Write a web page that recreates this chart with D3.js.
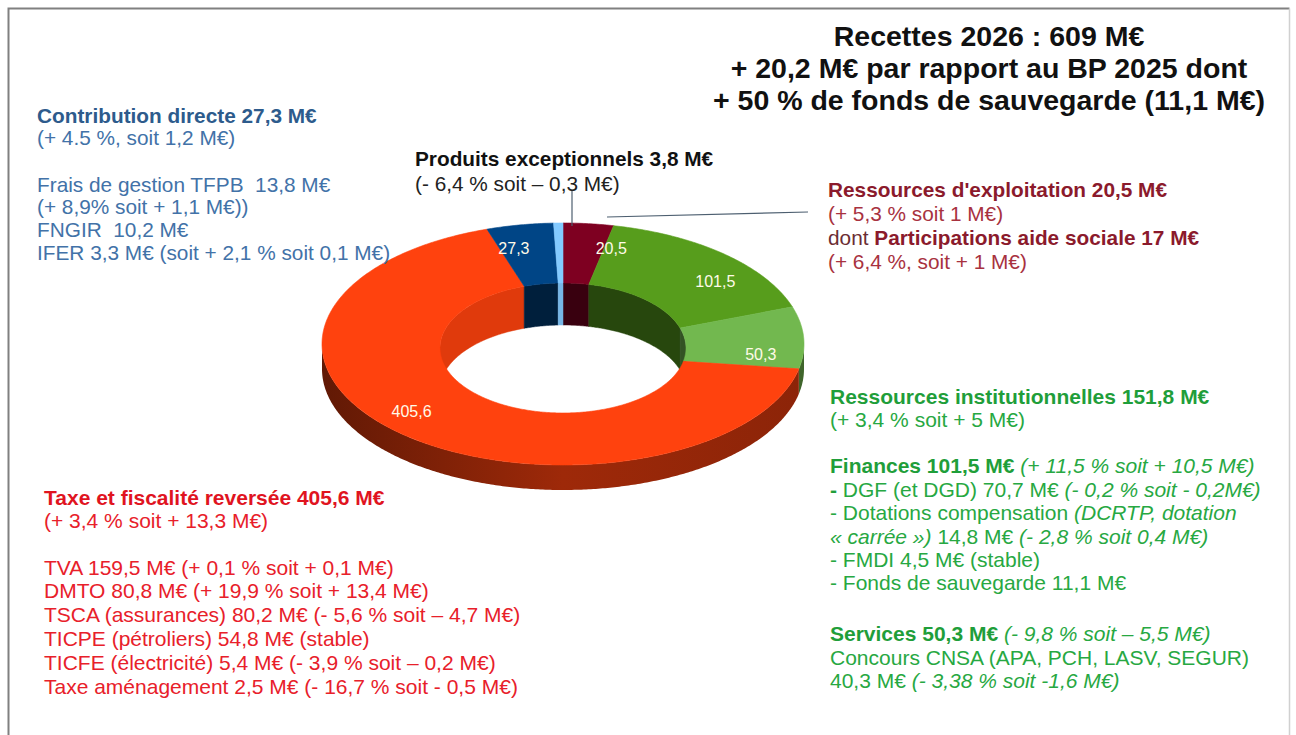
<!DOCTYPE html>
<html>
<head>
<meta charset="utf-8">
<script src="https://cdn.jsdelivr.net/npm/d3@7"></script>
<style>
  body { margin: 0; background: #fff; }
  svg { display: block; font-family: "Liberation Sans", Arial, sans-serif; }
</style>
</head>
<body>
<div id="chart"></div>
<script>
// slices, clockwise from 12 o'clock
const sliceNames = ["Ressources d'exploitation", "Finances", "Services", "Taxe et fiscalité reversée", "Contribution directe", "Produits exceptionnels"]
const sliceValues = [20.5, 101.5, 50.3, 405.6, 27.3, 3.8]
const sliceLabels = ["20,5", "101,5", "50,3", "405,6", "27,3", ""]
const sliceColors = ["#7e0021", "#579d1c", "#72b84f", "#ff420e", "#004586", "#83caff"]

const titleLines = ["Recettes 2026 : 609 M€", "+ 20,2 M€ par rapport au BP 2025 dont", "+ 50 % de fonds de sauvegarde (11,1 M€)"]

// text blocks : each line is a list of [text, style] runs (b = bold, i = italic)
// a number stands for an extra blank gap (px)
const blockContribution = [
    [["Contribution directe 27,3 M€", "b"]],
    [["(+ 4.5 %, soit 1,2 M€)", ""]],
    24,
    [["Frais de gestion TFPB  13,8 M€", ""]],
    [["(+ 8,9% soit + 1,1 M€))", ""]],
    [["FNGIR  10,2 M€", ""]],
    [["IFER 3,3 M€ (soit + 2,1 % soit 0,1 M€)", ""]]
]
const blockProduits = [
    [["Produits exceptionnels 3,8 M€", "b"]],
    [["(- 6,4 % soit – 0,3 M€)", ""]]
]
const blockExploitation = [
    [["Ressources d'exploitation 20,5 M€", "b"]],
    [["(+ 5,3 % soit 1 M€)", ""]],
    [["dont ", "d"], ["Participations aide sociale 17 M€", "b"]],
    [["(+ 6,4 %, soit + 1 M€)", ""]]
]
const blockInstitution = [
    [["Ressources institutionnelles 151,8 M€", "b"]],
    [["(+ 3,4 % soit + 5 M€)", ""]],
    23,
    [["Finances 101,5 M€", "b"], [" (+ 11,5 % soit + 10,5 M€)", "i"]],
    [["-", "b"], [" DGF (et DGD) 70,7 M€ ", ""], ["(- 0,2 % soit - 0,2M€)", "i"]],
    [["- Dotations compensation ", ""], ["(DCRTP, dotation", "i"]],
    [["« carrée »)", "i"], [" 14,8 M€ ", ""], ["(- 2,8 % soit 0,4 M€)", "i"]],
    [["- FMDI 4,5 M€ (stable)", ""]],
    [["- Fonds de sauvegarde 11,1 M€", ""]],
    27.5,
    [["Services 50,3 M€", "b"], [" (- 9,8 % soit – 5,5 M€)", "i"]],
    [["Concours CNSA (APA, PCH, LASV, SEGUR)", ""]],
    [["40,3 M€ ", ""], ["(- 3,38 % soit -1,6 M€)", "i"]]
]
const blockTaxe = [
    [["Taxe et fiscalité reversée 405,6 M€", "b"]],
    [["(+ 3,4 % soit + 13,3 M€)", ""]],
    22.5,
    [["TVA 159,5 M€ (+ 0,1 % soit + 0,1 M€)", ""]],
    [["DMTO 80,8 M€ (+ 19,9 % soit + 13,4 M€)", ""]],
    [["TSCA (assurances) 80,2 M€ (- 5,6 % soit – 4,7 M€)", ""]],
    [["TICPE (pétroliers) 54,8 M€ (stable)", ""]],
    [["TICFE (électricité) 5,4 M€ (- 3,9 % soit – 0,2 M€)", ""]],
    [["Taxe aménagement 2,5 M€ (- 16,7 % soit - 0,5 M€)", ""]]
]

function draw_chart() {
    const width = 1296, height = 735
    const svg = d3.select('#chart').append('svg')
        .attr('width', width).attr('height', height)

    svg.append('rect').attr('width', width).attr('height', height).attr('fill', '#fff')
    // frame
    svg.append('path').attr('d', 'M8.5,735 V8.5 H1289.5')
        .attr('fill', 'none').attr('stroke', '#808080').attr('stroke-width', 2)
    svg.append('line').attr('x1', 1289.5).attr('y1', 8.5).attr('x2', 1289.5).attr('y2', 735)
        .attr('stroke', '#d0d0d0').attr('stroke-width', 1.5)

    // ---- pseudo 3d donut ----
    const cx = 563
    const outer = {rx: 241, ry: 121, cy: 344}
    const inner = {rx: 123, ry: 65, cy: 348}
    const sideDepth = 25, wallDepth = 42

    const pie = d3.pie().sort(null).value(d => d).startAngle(0).endAngle(2 * Math.PI)
    const arcs = pie(sliceValues).map((a, i) => ({...a, i: i}))

    const pt = (e, a, dy = 0) => [cx + e.rx * Math.sin(a), e.cy - e.ry * Math.cos(a) + dy]
    function ring(e, a0, a1, dy = 0) {
        const n = Math.max(2, Math.ceil(Math.abs(a1 - a0) / 0.01))
        return d3.range(n + 1).map(k => pt(e, a0 + (a1 - a0) * k / n, dy))
    }
    const line = d3.line()
    const dark = (c, k) => d3.interpolateRgb(c, '#000')(k)

    const defs = svg.append('defs')
    sliceColors.forEach((c, i) => {
        const g = defs.append('linearGradient').attr('id', 'side' + i)
            .attr('gradientUnits', 'userSpaceOnUse')
            .attr('x1', cx - outer.rx).attr('x2', cx + outer.rx).attr('y1', 0).attr('y2', 0)
        g.append('stop').attr('offset', 0).attr('stop-color', dark(c, 0.62))
        g.append('stop').attr('offset', 0.5).attr('stop-color', dark(c, 0.38))
        g.append('stop').attr('offset', 1).attr('stop-color', dark(c, 0.45))
    })

    // back inner wall
    const backRanges = [[0, Math.PI / 2], [1.5 * Math.PI, 2 * Math.PI]]
    arcs.forEach(a => {
        backRanges.forEach(([r0, r1]) => {
            const s = Math.max(a.startAngle, r0), t = Math.min(a.endAngle, r1)
            if (t <= s) return
            const pts = ring(inner, s, t).concat(ring(inner, t, s, wallDepth))
            const k = a.i === 3 ? 0.12 : (a.i === 5 ? 0.1 : 0.55)
            svg.append('path').attr('d', line(pts) + 'Z')
                .attr('fill', dark(sliceColors[a.i], k))
                .attr('stroke', dark(sliceColors[a.i], k)).attr('stroke-width', 0.5)
        })
    })

    // front outer side
    arcs.forEach(a => {
        const s = Math.max(a.startAngle, Math.PI / 2), t = Math.min(a.endAngle, 1.5 * Math.PI)
        if (t <= s) return
        const pts = ring(outer, s, t).concat(ring(outer, t, s, sideDepth))
        svg.append('path').attr('d', line(pts) + 'Z')
            .attr('fill', 'url(#side' + a.i + ')')
    })

    // top faces
    arcs.forEach(a => {
        const pts = ring(outer, a.startAngle, a.endAngle).concat(ring(inner, a.endAngle, a.startAngle))
        svg.append('path').attr('d', line(pts) + 'Z')
            .attr('fill', sliceColors[a.i])
            .attr('stroke', sliceColors[a.i]).attr('stroke-width', 0.6)
    })

    // value labels (nudged clockwise, except near the top-left end)
    const deg = Math.PI / 180
    arcs.forEach(a => {
        if (!sliceLabels[a.i]) return
        let m = (a.startAngle + a.endAngle) / 2
        m += m > 300 * deg ? -4 * deg : 8 * deg
        const po = pt(outer, m), pi = pt(inner, m)
        const t = 0.64
        svg.append('text')
            .attr('x', pi[0] + (po[0] - pi[0]) * t)
            .attr('y', pi[1] + (po[1] - pi[1]) * t + 6)
            .attr('text-anchor', 'middle')
            .attr('font-size', 16).attr('fill', '#fffbe8')
            .text(sliceLabels[a.i])
    })

    // leader lines
    svg.append('line').attr('x1', 572).attr('y1', 191).attr('x2', 572).attr('y2', 226)
        .attr('stroke', '#4d5f70').attr('stroke-width', 1.2)
    svg.append('line').attr('x1', 607).attr('y1', 217).attr('x2', 808).attr('y2', 212)
        .attr('stroke', '#4d5f70').attr('stroke-width', 1.2)

    // ---- texts ----
    function draw_block(lines, x, y0, step, size, colors) {
        const g = svg.append('g')
        let y = y0
        lines.forEach(runs => {
            if (typeof runs === 'number') { y += runs; return }
            const txt = g.append('text').attr('x', x).attr('y', y)
                .attr('font-size', size).style('white-space', 'pre')
            runs.forEach(([s, st]) => {
                txt.append('tspan').text(s)
                    .attr('font-weight', st === 'b' ? 'bold' : 'normal')
                    .attr('font-style', st === 'i' ? 'italic' : 'normal')
                    .attr('fill', colors[st] || colors[''])
            })
            y += step
        })
    }

    draw_block(blockContribution, 37, 122.5, 22.6, 20.8, {'b': '#2d5b8c', '': '#4272a8'})
    draw_block(blockProduits, 415, 165.5, 25, 20.8, {'b': '#111', '': '#222'})
    draw_block(blockExploitation, 828, 196.5, 24.3, 20.8, {'b': '#8b1a2c', '': '#a8323f', 'd': '#6b2d33'})
    draw_block(blockInstitution, 830, 403.5, 23.4, 21, {'b': '#1f9e3a', '': '#27a842', 'i': '#27a842'})
    draw_block(blockTaxe, 44, 504.5, 23.8, 21, {'b': '#e0141f', '': '#e8202a'})

    svg.append('g').selectAll('text').data(titleLines).join('text')
        .attr('x', 989).attr('y', (d, i) => 46 + i * 32)
        .attr('text-anchor', 'middle')
        .attr('font-size', 28.5).attr('font-weight', 'bold').attr('fill', '#111')
        .text(d => d)
}

draw_chart()
</script>
</body>
</html>
